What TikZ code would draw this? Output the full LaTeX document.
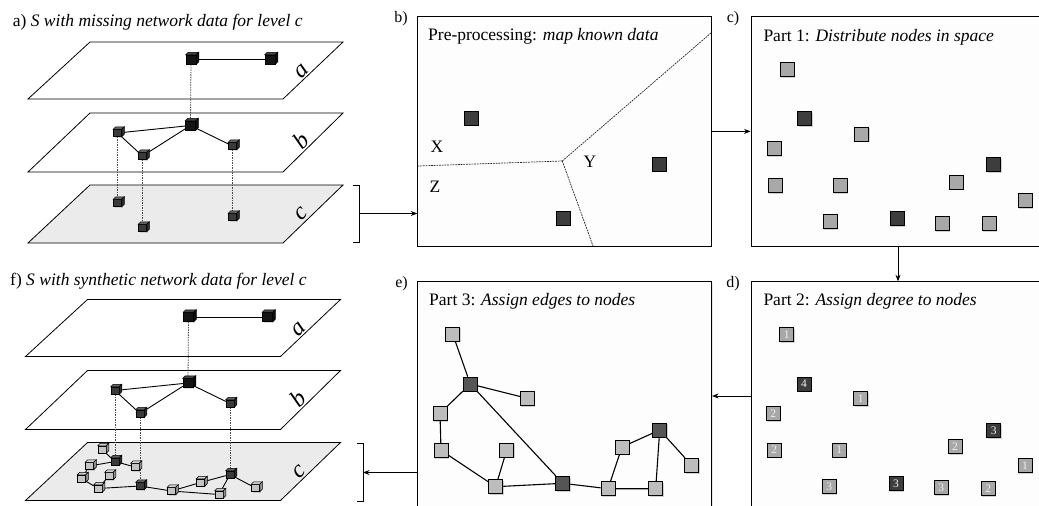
\documentclass[tikz,border=0pt]{standalone}
\usepackage{fontspec}
\setmainfont{Liberation Serif}
\usetikzlibrary{arrows.meta,shadows}
\pgfdeclarelayer{back}
\pgfdeclarelayer{links}
\pgfsetlayers{back,links,main}

\definecolor{boxfill}{HTML}{FDFDFD}
\definecolor{planegray}{HTML}{EBEBEB}
\definecolor{sqlight}{HTML}{A8A8A8}
\definecolor{sqdark}{HTML}{3D3D3D}
\definecolor{edlight}{HTML}{BDBDBD}
\definecolor{eddark}{HTML}{555555}
\definecolor{cubeblack}{HTML}{141414}
\definecolor{cubedark}{HTML}{3A3A3A}
\definecolor{cubelight}{HTML}{C4C4C4}

% three stacked levels a, b, c with the known upper network
\newcommand\layerstack[1]{%
  \begin{pgfonlayer}{back}
    \draw[plane] (90,42) -- (343,42) -- (283,99) -- (28,99) -- cycle;
    \draw[plane] (90,113) -- (343,113) -- (283,172) -- (28,172) -- cycle;
    \draw[plane, fill=planegray] (90,185) -- (343,185) -- (283,243) -- (28,243) -- cycle;
  \end{pgfonlayer}
  \node[lvl] (#1la) at (301.7,71.7) {a};
  \node[lvl] (#1lb) at (300.5,140.5) {b};
  \node[lvl] (#1lc) at (301.7,214) {c};
  \node[bigcube=cubeblack] (#1A1) at (191,59.5) {};
  \node[bigcube=cubeblack] (#1A2) at (270,59.5) {};
  \node[cube=cubedark] (#1B1) at (117.5,133) {};
  \node[bigcube=cubeblack] (#1B2) at (190.5,125.5) {};
  \node[cube=cubedark] (#1B3) at (142.5,156) {};
  \node[cube=cubedark] (#1B4) at (232.5,146) {};
  \begin{pgfonlayer}{links}
    \draw[link] (#1A1) -- (#1A2);
    \draw[link] (#1B1) -- (#1B2) (#1B1) -- (#1B3) (#1B3) -- (#1B2) (#1B2) -- (#1B4);
    \draw[vlink] (#1A1) -- (#1B2);
  \end{pgfonlayer}
  \foreach \n/\c in {#1A1/cubeblack,#1A2/cubeblack,#1B1/cubedark,#1B2/cubeblack,#1B3/cubedark,#1B4/cubedark}{\cubefaces{\n}{\c}}
}

% top and side faces of a small box node
\newcommand\cubefaces[2]{%
  \filldraw[line width=0.5pt, fill=#2!80!white] (#1.north west) -- ([shift={(2.5,-2.5)}]#1.north west)
    -- ([shift={(2.5,-2.5)}]#1.north east) -- (#1.north east) -- cycle;
  \filldraw[line width=0.5pt, fill=#2!75!black] (#1.north east) -- ([shift={(2.5,-2.5)}]#1.north east)
    -- ([shift={(2.5,-2.5)}]#1.south east) -- (#1.south east) -- cycle;
}

\begin{document}
\begin{tikzpicture}[x=1pt,y=-1pt,
  title/.style={font=\fontsize{17.5}{20}\selectfont, inner sep=0pt},
  tag/.style={font=\fontsize{16}{18}\selectfont, inner sep=0pt},
  lvl/.style={font=\fontsize{24}{24}\selectfont\itshape, inner sep=0pt, rotate=45},
  plane/.style={draw=black, line width=0.8pt, fill=white},
  cube/.style={draw=black, line width=0.5pt, inner sep=0pt, minimum width=8pt, minimum height=7pt, fill=#1,
    drop shadow={shadow xshift=1pt, shadow yshift=-1pt, opacity=0.25}},
  bigcube/.style={cube=#1, minimum width=10pt, minimum height=9pt},
  link/.style={draw=black, line width=0.9pt},
  vlink/.style={draw=black!70, line width=0.8pt, dash pattern=on 1.5pt off 1pt},
  voro/.style={draw=black!85, line width=0.7pt, dash pattern=on 1.8pt off 0.9pt},
  panel/.style={draw=black, line width=0.8pt, fill=boxfill, inner sep=0pt,
    drop shadow={shadow xshift=1pt, shadow yshift=-1pt, opacity=0.2}},
  sq/.style={draw=black, line width=0.8pt, minimum size=14pt, inner sep=0pt, fill=#1,
    drop shadow={shadow xshift=1pt, shadow yshift=-1.2pt, opacity=0.35}},
  deg/.style={sq=#1, text=white!88!gray, font=\fontsize{11.5}{11.5}\selectfont},
  arr/.style={line width=0.8pt, -{Stealth[length=6.5pt,width=5pt]}},
]
\useasboundingbox (0,0) rectangle (1039,506);
\clip (0,0) rectangle (1039,506);

% ---------- a) ----------
\node[title, anchor=base west] (ta) at (12.7,26.5) {a) \textit{S with missing network data for level c}};
\layerstack{a}
\node[cube=cubedark] (aC1) at (117.5,203) {};
\node[cube=cubedark] (aC2) at (142.5,228) {};
\node[cube=cubedark] (aC3) at (232.5,217) {};
\begin{pgfonlayer}{links}
  \draw[vlink] (aB1) -- (aC1) (aB3) -- (aC2) (aB4) -- (aC3);
\end{pgfonlayer}
\foreach \n in {aC1,aC2,aC3}{\cubefaces{\n}{cubedark}}
\draw[line width=0.9pt] (353,185) -- (359,185) -- (359,242) -- (353,242);
\coordinate (bra) at (359,213.5);

% ---------- f) ----------
\node[title, anchor=base west] (tf) at (10,285) {f) \textit{S with synthetic network data for level c}};
\begin{scope}[shift={(-2.5,257.5)}]
  \layerstack{f}
  \node[cube=cubelight] (fL1) at (104.5,192) {};
  \node[cube=cubedark]  (fD1) at (117.5,204) {};
  \node[cube=cubelight] (fL2) at (92,208.5) {};
  \node[cube=cubelight] (fL3) at (137.5,209.5) {};
  \node[cube=cubelight] (fL4) at (111.5,218.5) {};
  \node[cube=cubelight] (fL5) at (84,221) {};
  \node[cube=cubelight] (fL6) at (100.5,231) {};
  \node[cube=cubedark]  (fD2) at (142.5,228.5) {};
  \node[cube=cubelight] (fL7) at (174,233.5) {};
  \node[cube=cubelight] (fL8) at (203,225) {};
  \node[cube=cubedark]  (fD3) at (232.5,217) {};
  \node[cube=cubelight] (fL9) at (221.5,237) {};
  \node[cube=cubelight] (fL10) at (258,230.5) {};
  \begin{pgfonlayer}{links}
    \draw[vlink] (fB1) -- (fD1) (fB3) -- (fD2) (fB4) -- (fD3);
    \draw[link] (fL1) -- (fD1) (fL2) -- (fD1) (fD1) -- (fL3) (fL2) -- (fL5) (fL5) -- (fL6)
      (fL4) -- (fL6) (fL6) -- (fD2) (fD2) -- (fL7) (fL7) -- (fL8) (fL8) -- (fD3)
      (fL7) -- (fL9) (fL9) -- (fD3) (fD3) -- (fL10);
  \end{pgfonlayer}
  \foreach \n/\c in {fL1/cubelight,fD1/cubedark,fL2/cubelight,fL3/cubelight,fL4/cubelight,fL5/cubelight,fL6/cubelight,fD2/cubedark,fL7/cubelight,fL8/cubelight,fD3/cubedark,fL9/cubelight,fL10/cubelight}{\cubefaces{\n}{\c}}
\end{scope}
\draw[line width=0.9pt] (357,443) -- (363,443) -- (363,501) -- (357,501);
\coordinate (brf) at (363,472.5);

% ---------- panels b) to e) ----------
\begin{pgfonlayer}{back}
  \node[panel, minimum width=293.3pt, minimum height=229.3pt] (pb) at (564.3,131.4) {};
  \node[panel, minimum width=294pt, minimum height=229.3pt] (pc) at (898,131.4) {};
  \node[panel, minimum width=294pt, minimum height=228.6pt] (pd) at (898,396) {};
  \node[panel, minimum width=294pt, minimum height=228.6pt] (pe) at (564.7,396) {};
\end{pgfonlayer}
\node[tag, anchor=base east] (tb) at (408,22) {b)};
\node[tag, anchor=base east] (tc) at (739.5,22) {c)};
\node[tag, anchor=base east] (te) at (408,287) {e)};
\node[tag, anchor=base east] (td) at (740,287) {d)};

% b) pre-processing
\node[title, anchor=base west] (hb) at (428,40.5) {Pre-processing: \textit{map known data}};
\coordinate (vj) at (562.3,161);
\coordinate (vl) at (418,166);
\coordinate (vt) at (711,33);
\coordinate (vb) at (593,246);
\begin{pgfonlayer}{links}
  \draw[voro] (vj) -- (vl) (vj) -- (vt) (vj) -- (vb);
\end{pgfonlayer}
\node[title] (rx) at (437,147) {X};
\node[title] (ry) at (590,162) {Y};
\node[title] (rz) at (435,187) {Z};
\node[sq=sqdark] (b1) at (471,118) {};
\node[sq=sqdark] (b2) at (659,164) {};
\node[sq=sqdark] (b3) at (563,218) {};

% c) part 1
\node[title, anchor=base west] (hc) at (763.3,41.5) {Part 1: \textit{Distribute nodes in space}};
\foreach \x/\y/\c [count=\i] in {787.3/69.3/sqlight, 804.7/118.3/sqdark, 861.7/134/sqlight,
  774.3/148.3/sqlight, 993.7/164.7/sqdark, 775/185.3/sqlight, 840.3/185.3/sqlight,
  956/182/sqlight, 1025.3/200.7/sqlight, 830/221.3/sqlight, 897/218.7/sqdark,
  942/223.3/sqlight, 989.3/223.3/sqlight}
  \node[sq=\c] (c\i) at (\x,\y) {};

% d) part 2
\node[title, anchor=base west] (hd) at (763.3,305) {Part 2: \textit{Assign degree to nodes}};
\foreach \x/\y/\c/\k [count=\i] in {786.7/334.3/sqlight/1, 804/384/sqdark/4, 860.7/398.7/sqlight/1,
  773.3/413.3/sqlight/2, 993.7/430.7/sqdark/3, 774.3/450/sqlight/2, 839.3/450/sqlight/1,
  955/446.7/sqlight/2, 1025/465.7/sqlight/1, 829.3/486.7/sqlight/3, 896/483.3/sqdark/3,
  941.3/487.7/sqlight/3, 988.3/488.3/sqlight/2}
  \node[deg=\c] (d\i) at (\x,\y) {\k};

% e) part 3
\node[title, anchor=base west] (he) at (429,305) {Part 3: \textit{Assign edges to nodes}};
\foreach \x/\y/\c [count=\i] in {452.7/334/edlight, 470.3/384/eddark, 527.3/398.3/edlight,
  440/413.3/edlight, 441/450.3/edlight, 506.7/450/edlight, 495.7/486.7/edlight,
  562.7/483.3/eddark, 608/488.7/edlight, 622/447/edlight, 659.7/430/eddark,
  655.7/488.7/edlight, 691.7/465.3/edlight}
  \node[sq=\c] (e\i) at (\x,\y) {};
\begin{pgfonlayer}{links}
  \draw[link, line width=1.1pt] (e1) -- (e2) (e2) -- (e3) (e2) -- (e4) (e4) -- (e5) (e5) -- (e7)
    (e6) -- (e7) (e7) -- (e8) (e2) -- (e8) (e8) -- (e9) (e9) -- (e10) (e10) -- (e11)
    (e9) -- (e12) (e11) -- (e12) (e11) -- (e13);
\end{pgfonlayer}

% ---------- flow between steps ----------
\draw[arr] (bra) -- (bra -| pb.west);
\draw[arr] (pb.east) -- (pc.west);
\draw[arr] (pc.south) -- (pd.north);
\draw[arr] (pd.west) -- (pe.east);
\draw[arr] (brf -| pe.west) -- (brf);
\end{tikzpicture}
\end{document}
